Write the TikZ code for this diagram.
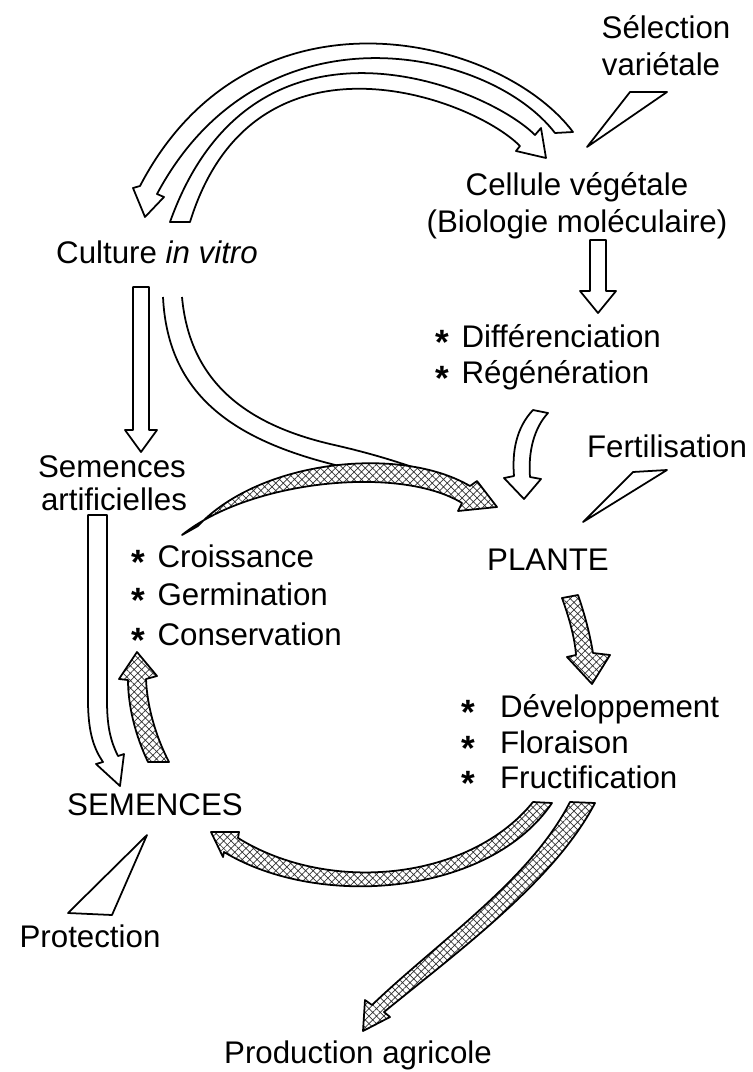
\documentclass[tikz,border=0pt]{standalone}
\usepackage{fontspec}
\setmainfont{Liberation Sans}
\usetikzlibrary{patterns.meta}
\newcommand{\puce}[1][0.4em]{\smash{\raisebox{-0.25em}{\fontsize{20}{20}\selectfont\bfseries *}}\hspace{#1}}
\tikzset{
  band/.style={draw, line width=1pt, line join=round, fill=white},
  hatchband/.style={draw, line width=1pt, line join=round, preaction={fill=white},
    pattern={Hatch[angle=45,distance=3pt,line width=0.4pt]}, pattern color=black!80},
  spike/.style={draw, line width=1pt, line join=round, fill=white},
  lbl/.style={inner sep=0pt, font=\fontsize{17.8}{21}\selectfont}
}
\begin{document}
\begin{tikzpicture}[x=0.02cm, y=-0.02cm]
\useasboundingbox (0,0) rectangle (752,1072);

\node[lbl, anchor=base] (sel1) at (666,38) {Sélection};
\node[lbl, anchor=base] (sel2) at (661,75) {variétale};
\node[lbl, anchor=base] (cell1) at (577,195) {Cellule végétale};
\node[lbl, anchor=base] (cell2) at (577,232) {(Biologie moléculaire)};
\node[lbl, anchor=base] (culture) at (157,263) {Culture \textit{in vitro}};
\node[lbl, anchor=base west] (diff) at (435,347) {\puce Différenciation};
\node[lbl, anchor=base west] (regen) at (435,383) {\puce Régénération};
\node[lbl, anchor=base] (fert) at (667,457) {Fertilisation};
\node[lbl, anchor=base] (semart1) at (112,477) {Semences};
\node[lbl, anchor=base] (semart2) at (114,510) {artificielles};
\node[lbl, anchor=base] (plante) at (548,570) {PLANTE};
\node[lbl, anchor=base west] (crois) at (131,567) {\puce Croissance};
\node[lbl, anchor=base west] (germ) at (131,605) {\puce Germination};
\node[lbl, anchor=base west] (cons) at (131,645) {\puce Conservation};
\node[lbl, anchor=base west] (dev) at (461,717) {\puce[0.8em]Développement};
\node[lbl, anchor=base west] (flor) at (461,753) {\puce[0.8em]Floraison};
\node[lbl, anchor=base west] (fruct) at (461,788) {\puce[0.8em]Fructification};
\node[lbl, anchor=base] (semences) at (155,815) {SEMENCES};
\node[lbl, anchor=base] (prot) at (90,947) {Protection};
\node[lbl, anchor=base] (prod) at (358,1063) {Production agricole};

\draw[band] (555,133) .. controls (490,48) and (262,-2) .. (157,194)
  -- (164,197) -- (145,217) -- (133,188) -- (140,186)
  .. controls (250,-25) and (500,35) .. (573,132) -- cycle;
\draw[band] (170,222) .. controls (253,-10) and (486,86) .. (535,135)
  -- (541,128) -- (546,158) -- (516,151) -- (520,146)
  .. controls (470,96) and (253,18) .. (190,222) -- cycle;
\draw[spike] (630,92) -- (667,92) -- (587,147) -- cycle;

\draw[band] (133,287) -- (133,430) -- (125,430) -- (141,452) -- (157,430) -- (149,430) -- (149,287) -- cycle;
\draw[band] (590,240) -- (590,291) -- (580,291) -- (598,313) -- (616,291) -- (606,291) -- (606,240) -- cycle;

\draw[band] (163,297) .. controls (168,400) and (240,445) .. (357,470) -- (440,477)
  .. controls (400,462) and (370,453) .. (330,444)
  .. controls (250,425) and (190,385) .. (182,297);
\draw[hatchband] (182,535) .. controls (250,480) and (400,465) .. (462,503)
  -- (458,511) -- (497,507) -- (477,481) -- (470,486)
  .. controls (400,445) and (260,460) .. (198,526) -- cycle;

\draw[band] (533,410) .. controls (516,428) and (512,452) .. (514,476)
  -- (504,478) -- (524,499) -- (541,479) -- (530,477)
  .. controls (528,452) and (534,428) .. (548,413) -- cycle;
\draw[spike] (633,472) -- (667,470) -- (583,522) -- cycle;

\draw[hatchband] (562,598) .. controls (570,620) and (575,640) .. (576,655)
  -- (567,657) -- (592,684) -- (610,655) -- (593,653)
  .. controls (590,635) and (585,615) .. (578,595) -- cycle;

\draw[band] (88,515) -- (88,700) .. controls (88,735) and (95,750) .. (103,762)
  -- (96,764) -- (120,786) -- (124,754) -- (118,756)
  .. controls (110,740) and (107,725) .. (107,700) -- (107,515) -- cycle;
\draw[hatchband] (148,762) .. controls (135,735) and (128,705) .. (128,680)
  -- (119,679) -- (137,652) -- (157,676) -- (146,679)
  .. controls (147,705) and (155,735) .. (169,762) -- cycle;

\draw[hatchband] (533,802) .. controls (470,880) and (330,895) .. (238,838)
  -- (239,832) -- (211,832) -- (223,857) -- (224,852)
  .. controls (320,910) and (490,895) .. (552,803) -- cycle;
\draw[hatchband] (570,802) .. controls (530,880) and (440,940) .. (372,1005)
  -- (365,1000) -- (363,1031) -- (390,1017) -- (384,1012)
  .. controls (460,950) and (555,880) .. (595,803) -- cycle;
\draw[spike] (147,835) -- (112,915) -- (68,913) -- cycle;
\end{tikzpicture}
\end{document}
